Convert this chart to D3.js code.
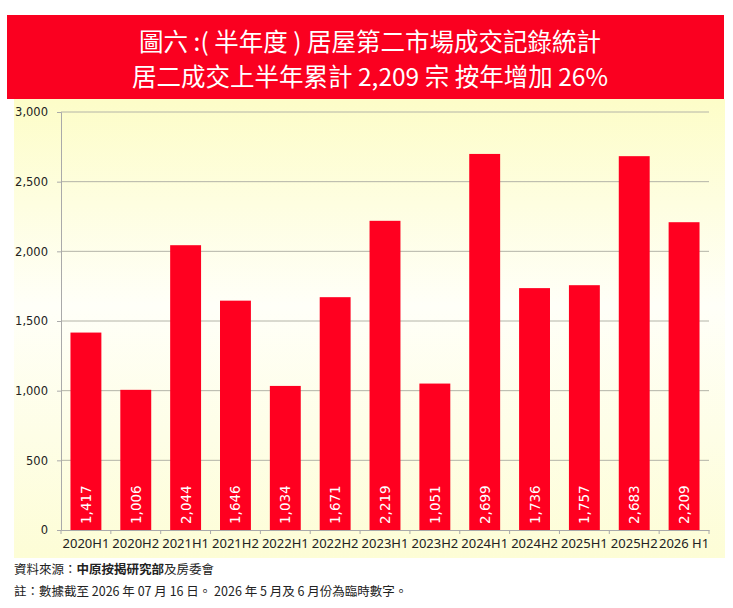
<!DOCTYPE html>
<html>
<head>
<meta charset="utf-8">
<script src="https://cdn.jsdelivr.net/npm/d3@7"></script>
<style>
  body { margin: 0; background: #fff; }
  svg { display: block; }
</style>
</head>
<body>
<svg width="733" height="608"></svg>
<script>
// data
const categories = ["2020H1", "2020H2", "2021H1", "2021H2", "2022H1", "2022H2", "2023H1",
                    "2023H2", "2024H1", "2024H2", "2025H1", "2025H2", "2026 H1"];
const values = [1417, 1006, 2044, 1646, 1034, 1671, 2219, 1051, 2699, 1736, 1757, 2683, 2209];
const yTicks = [0, 500, 1000, 1500, 2000, 2500, 3000];
const titleLines = ["圖六 :( 半年度 ) 居屋第二市場成交記錄統計", "居二成交上半年累計 2,209 宗 按年增加 26%"];

const svg = d3.select("svg");
const cjk = "'Noto Sans CJK TC', 'Noto Sans', sans-serif";
const latin = "Verdana, 'DejaVu Sans', sans-serif";

// background gradient for the chart panel
const defs = svg.append("defs");
const grad = defs.append("linearGradient")
    .attr("id", "bg").attr("x1", 0).attr("y1", 0).attr("x2", 0).attr("y2", 1);
grad.append("stop").attr("offset", "0%").attr("stop-color", "#fdfdc8");
grad.append("stop").attr("offset", "45%").attr("stop-color", "#fffff8");
grad.append("stop").attr("offset", "100%").attr("stop-color", "#fdfdd6");

svg.append("rect")
    .attr("x", 14).attr("y", 99).attr("width", 711).attr("height", 459)
    .attr("fill", "url(#bg)");

// header
svg.append("rect")
    .attr("x", 7).attr("y", 15).attr("width", 717).attr("height", 84)
    .attr("fill", "#fa0020");

svg.selectAll(".title")
  .data(titleLines)
  .enter().append("text")
    .attr("class", "title")
    .attr("x", 370)
    .attr("y", (d, i) => 51 + i * 35)
    .attr("text-anchor", "middle")
    .attr("fill", "#fff")
    .attr("font-family", cjk)
    .attr("font-size", 24.5)
    .text(d => d);

// plot
const margin = { top: 112, left: 61, right: 709, bottom: 530 };

const x = d3.scaleBand()
  .domain(categories)
  .range([margin.left, margin.right])
  .paddingInner(0.38)
  .paddingOuter(0.19);

const y = d3.scaleLinear()
  .domain([0, 3000])
  .range([margin.bottom, margin.top]);

// gridlines
svg.append("g")
  .selectAll("line")
  .data(yTicks.filter(d => d > 0))
  .enter().append("line")
    .attr("x1", margin.left).attr("x2", margin.right)
    .attr("y1", d => y(d)).attr("y2", d => y(d))
    .attr("stroke", "#b4b4a8").attr("stroke-width", 1);

// y axis
const yAxis = svg.append("g")
  .attr("transform", `translate(${margin.left},0)`)
  .call(d3.axisLeft(y).tickValues(yTicks).tickFormat(d3.format(",")).tickSize(4).tickPadding(9));
yAxis.select(".domain").attr("stroke", "#aaa");
yAxis.selectAll(".tick line").attr("stroke", "#aaa");
yAxis.selectAll("text")
  .attr("font-family", latin).attr("font-size", 11.5).attr("fill", "#222");

// bars
svg.append("g")
  .selectAll("rect")
  .data(values)
  .enter().append("rect")
    .attr("x", (d, i) => x(categories[i]))
    .attr("y", d => y(d))
    .attr("width", x.bandwidth())
    .attr("height", d => y(0) - y(d))
    .attr("fill", "#ff0020");

// value labels inside bars
svg.append("g")
  .selectAll("text")
  .data(values)
  .enter().append("text")
    .attr("transform", (d, i) => `translate(${x(categories[i]) + x.bandwidth() / 2 + 5},${y(0) - 6}) rotate(-90)`)
    .attr("text-anchor", "start")
    .attr("fill", "#fff")
    .attr("font-family", latin)
    .attr("font-size", 13.5)
    .text(d => d3.format(",")(d));

// x axis
const xAxis = svg.append("g")
  .attr("transform", `translate(0,${margin.bottom})`)
  .call(d3.axisBottom(x).tickSize(0).tickPadding(9));
xAxis.select(".domain").attr("stroke", "#aaa");
xAxis.selectAll("text")
  .attr("font-family", "'Noto Sans', sans-serif").attr("font-size", 13).attr("fill", "#222");

// tick marks between categories
svg.append("g")
  .selectAll("line")
  .data(d3.range(categories.length + 1))
  .enter().append("line")
    .attr("x1", i => margin.left + i * (margin.right - margin.left) / categories.length)
    .attr("x2", i => margin.left + i * (margin.right - margin.left) / categories.length)
    .attr("y1", margin.bottom).attr("y2", margin.bottom + 4)
    .attr("stroke", "#aaa");

// footnotes
const src = svg.append("text")
  .attr("x", 14).attr("y", 574)
  .attr("font-family", cjk).attr("font-size", 12.5).attr("fill", "#222");
src.append("tspan").text("資料來源：");
src.append("tspan").attr("font-weight", "bold").text("中原按揭研究部");
src.append("tspan").text("及房委會");

svg.append("text")
  .attr("x", 14).attr("y", 596)
  .attr("font-family", cjk).attr("font-size", 12.5).attr("fill", "#222")
  .text("註：數據截至 2026 年 07 月 16 日。 2026 年 5 月及 6 月份為臨時數字。");
</script>
</body>
</html>
